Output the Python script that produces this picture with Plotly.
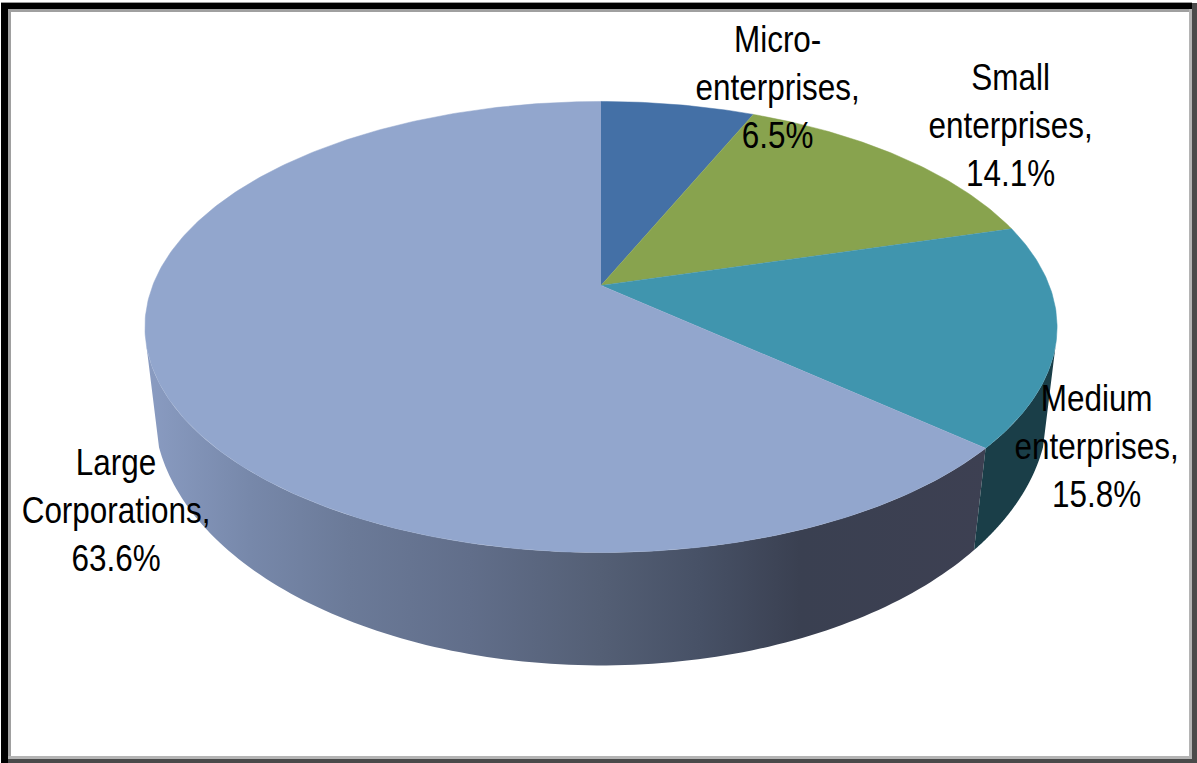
import math
import plotly.graph_objects as go

# ---- data ----
categories = ["Micro-enterprises", "Small enterprises", "Medium enterprises", "Large Corporations"]
values = [6.5, 14.1, 15.8, 63.6]
label_lines = [["Micro-", "enterprises,"], ["Small", "enterprises,"], ["Medium", "enterprises,"], ["Large", "Corporations,"]]
top_colors = ["#4470a6", "#88a34e", "#4095ae", "#92a6cd"]
medium_wall_color = "#1a3e48"
label_centers = [(777, 87), (1010, 125), (1096, 446), (116, 510)]

# ---- layout of the tilted disc (canvas pixels) ----
W, H = 1197, 763
CX = 601
TOP = dict(apex=285.5, rx=448.3, ry=217.9, k=0.184)
BOT = dict(apex=366.0, rx=441.0, ry=250.0, k=0.165)
WALL_X = [145, 250, 350, 470, 600, 700, 800, 990]
WALL_C = ["#8a9cc2", "#7788aa", "#6b7a98", "#616e8a", "#545f75", "#475166", "#3a4051", "#3d4052"]


def rim(theta, p):
    u, v = math.sin(theta), math.cos(theta)
    w = 1 + p["k"] * v
    return CX + p["rx"] * u / w, p["apex"] - p["ry"] * v / w


total = sum(values)
edges = [0.0]
for val in values:
    edges.append(edges[-1] + val / total * 2 * math.pi)

fig = go.Figure()


def arc(a0, a1, p, steps=120):
    return [rim(a0 + (a1 - a0) * i / steps, p) for i in range(steps + 1)]


def wall_outline(top_from, top_to, bot_from, bot_to):
    pts = arc(top_from, top_to, TOP) + arc(bot_to, bot_from, BOT)
    return [p[0] for p in pts], [p[1] for p in pts]


# side wall of the Large slice with a left-to-right shading
xs, ys = wall_outline(edges[3], math.radians(255), edges[3], math.radians(252))
fig.add_trace(go.Scatter(
    x=xs, y=ys, mode="none", fill="toself", hoverinfo="skip", showlegend=False,
    fillgradient=dict(type="horizontal", start=WALL_X[0], stop=WALL_X[-1],
                      colorscale=[[(x - WALL_X[0]) / (WALL_X[-1] - WALL_X[0]), c] for x, c in zip(WALL_X, WALL_C)])))

# side wall of the Medium slice
xs, ys = wall_outline(math.radians(105), edges[3], math.radians(108), edges[3])
fig.add_trace(go.Scatter(x=xs, y=ys, mode="none", fill="toself", fillcolor=medium_wall_color,
                         hoverinfo="skip", showlegend=False))

# upper faces of all slices
for i in range(len(values)):
    steps = max(6, int((edges[i + 1] - edges[i]) * 80))
    pts = arc(edges[i], edges[i + 1], TOP, steps)
    fig.add_trace(go.Scatter(x=[CX] + [p[0] for p in pts], y=[TOP["apex"]] + [p[1] for p in pts],
                             mode="lines", fill="toself", fillcolor=top_colors[i],
                             line=dict(color=top_colors[i], width=0.5),
                             name=categories[i], hoverinfo="skip", showlegend=False))

# labels
for lines, val, (lx, ly) in zip(label_lines, values, label_centers):
    fig.add_annotation(x=lx, y=ly, xref="x", yref="y", showarrow=False, align="center",
                       text="<br>".join(lines + [f"{val:.1f}%"]),
                       font=dict(family="Liberation Sans", size=37, color="#000000"))


def band(x0, y0, x1, y1, color):
    return dict(type="rect", xref="x", yref="y", x0=x0, y0=y0, x1=x1, y1=y1,
                fillcolor=color, line=dict(width=0), layer="above")


frame = [
    band(1, 2, 1192, 3, "#9a9a9a"),
    band(1, 3, 1192, 9, "#000000"),
    band(8, 9, 1189, 12, "#a0a0a0"),
    band(1, 3, 8, 763, "#000000"),
    band(8, 9, 11, 756, "#a0a0a0"),
    band(1189, 9, 1192, 759, "#b4b4b4"),
    band(1192, 3, 1197, 763, "#4a4a4a"),
    band(8, 756, 1192, 759, "#b4b4b4"),
    band(8, 759, 1197, 763, "#4a4a4a"),
]

fig.update_layout(
    width=W, height=H, margin=dict(l=0, r=0, t=0, b=0),
    paper_bgcolor="white", plot_bgcolor="white", showlegend=False, shapes=frame,
    xaxis=dict(range=[0, W], visible=False, fixedrange=True),
    yaxis=dict(range=[H, 0], visible=False, fixedrange=True),
)
# the reference's labels are set in a condensed face: narrow the real text horizontally
condense = """
document.body.style.margin='0';document.body.style.overflow='hidden';
document.querySelectorAll('.annotation-text').forEach(function(el){
  var b = el.getBBox(); var c = b.x + b.width/2;
  el.setAttribute('transform','translate('+c+',0) scale(0.85,1) translate('+(-c)+',0)');
});
"""
fig.write_html("out.html", config={"displayModeBar": False}, post_script=condense)
